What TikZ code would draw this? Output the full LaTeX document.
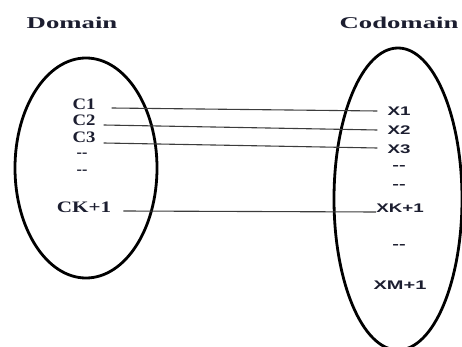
\documentclass[tikz,border=0pt]{standalone}
\usepackage{fontspec}
\setmainfont{Liberation Serif}
\newfontfamily\labelsans{Liberation Sans}
\usepackage{graphicx}
\definecolor{ink}{RGB}{28,30,48}
\definecolor{wire}{RGB}{60,60,60}
\newcommand\widetext[2]{\scalebox{#1}[1]{#2}}
\tikzset{
  settitle/.style={font=\fontsize{16.5}{18}\selectfont\bfseries, text=ink, inner sep=0pt},
  domlabel/.style={font=\fontsize{16}{18}\selectfont\bfseries, text=ink, inner sep=0pt},
  codlabel/.style={font=\labelsans\fontsize{12.5}{14}\selectfont\bfseries, text=ink, inner sep=0pt},
  setring/.style={line width=2.8pt, draw=black},
  mapline/.style={draw=wire, line width=1.1pt}
}
\begin{document}
\begin{tikzpicture}[x=1pt, y=-1pt]
\useasboundingbox (0,0) rectangle (462,347);

% the two sets
\draw[setring] (86,168) ellipse [x radius=71, y radius=110];
\draw[setring] (398,199) ellipse [x radius=64, y radius=151];

% titles
\node[settitle] (dom) at (72,23) {\widetext{1.62}{Domain}};
\node[settitle] (cod) at (399,23) {\widetext{1.62}{Codomain}};

% domain elements
\node[domlabel] (c1) at (84,104) {\widetext{1.17}{C1}};
\node[domlabel] (c2) at (84,120) {\widetext{1.17}{C2}};
\node[domlabel] (c3) at (84,137) {\widetext{1.17}{C3}};
\node[domlabel] (cd1) at (82,155) {-{}-};
\node[domlabel] (cd2) at (82,172) {-{}-};
\node[domlabel] (ck) at (84,207) {\widetext{1.32}{CK+1}};

% codomain elements
\node[codlabel] (x1) at (399,111) {\widetext{1.5}{X1}};
\node[codlabel] (x2) at (399,130) {\widetext{1.5}{X2}};
\node[codlabel] (x3) at (399,149) {\widetext{1.5}{X3}};
\node[codlabel] (xd1) at (399,168) {\widetext{1.6}{-{}-}};
\node[codlabel] (xd2) at (399,187) {\widetext{1.6}{-{}-}};
\node[codlabel] (xk) at (400,208) {\widetext{1.5}{XK+1}};
\node[codlabel] (xd3) at (399,247) {\widetext{1.6}{-{}-}};
\node[codlabel] (xm) at (400,285) {\widetext{1.6}{XM+1}};

% the mapping
\draw[mapline] ([shift={(16,4)}]c1.east) -- ([shift={(-10,0)}]x1.west);
\draw[mapline] ([shift={(8,5)}]c2.east) -- ([shift={(-10,0)}]x2.west);
\draw[mapline] ([shift={(8,6)}]c3.east) -- ([shift={(-10,-1)}]x3.west);
\draw[mapline] ([shift={(12,4)}]ck.east) -- ([shift={(0,4)}]xk.west);
\end{tikzpicture}
\end{document}
